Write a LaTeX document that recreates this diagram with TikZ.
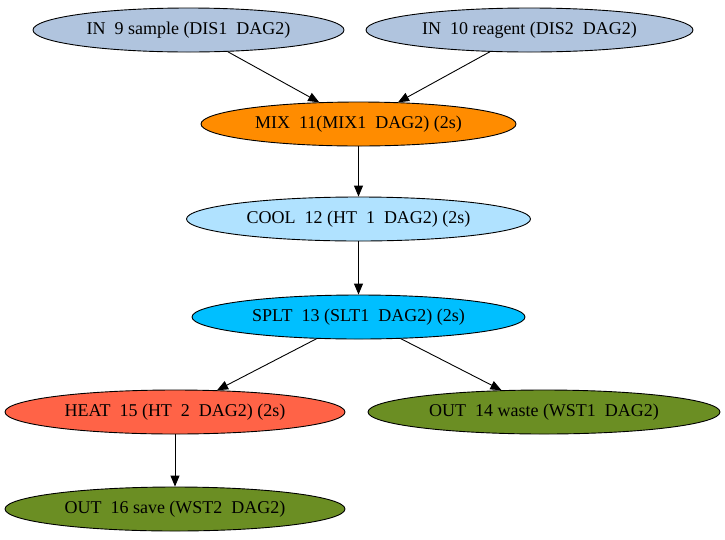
\documentclass[tikz,border=0pt]{standalone}
\usepackage{fontspec}
\setmainfont{Liberation Serif}
\usetikzlibrary{arrows.meta}
\usetikzlibrary{shapes.geometric}
\definecolor{insteel}{HTML}{B0C4DE}
\definecolor{mixorange}{HTML}{FF8C00}
\definecolor{coolblue}{HTML}{B0E2FF}
\definecolor{spltblue}{HTML}{00BFFF}
\definecolor{heattomato}{HTML}{FF6347}
\definecolor{outolive}{HTML}{6B8E23}

\begin{document}
\begin{tikzpicture}[x=1pt,y=-1pt,
    op/.style={ellipse,draw=black,line width=0.9pt,inner sep=0pt,minimum height=44pt,font=\fontsize{18}{20}\selectfont},
    flow/.style={-{Triangle[length=11pt,width=9pt]},line width=0.9pt}]
          \useasboundingbox (0,0) rectangle (725,539);
          %inputs
          \node[op,fill=insteel,minimum width=311pt] (in9) at (188.5,30) {IN\ \ 9 sample (DIS1\ \ DAG2)};
          \node[op,fill=insteel,minimum width=327pt] (in10) at (529.5,30) {IN\ \ 10 reagent (DIS2\ \ DAG2)};
          %operations
          \node[op,fill=mixorange,minimum width=315pt] (mix11) at (358.5,124) {MIX\ \ 11(MIX1\ \ DAG2) (2s)};
          \node[op,fill=coolblue,minimum width=344pt] (cool12) at (358.5,219) {COOL\ \ 12 (HT\ \ 1\ \ DAG2) (2s)};
          \node[op,fill=spltblue,minimum width=333pt] (splt13) at (358.5,317) {SPLT\ \ 13 (SLT1\ \ DAG2) (2s)};
          \node[op,fill=heattomato,minimum width=340pt] (heat15) at (175,412) {HEAT\ \ 15 (HT\ \ 2\ \ DAG2) (2s)};
          %outputs
          \node[op,fill=outolive,minimum width=352pt] (out14) at (544,412) {OUT\ \ 14 waste (WST1\ \ DAG2)};
          \node[op,fill=outolive,minimum width=340pt] (out16) at (175,509) {OUT\ \ 16 save (WST2\ \ DAG2)};
          \draw[flow] (in9) -- (mix11);
          \draw[flow] (in10) -- (mix11);
          \draw[flow] (mix11) -- (cool12);
          \draw[flow] (cool12) -- (splt13);
          \draw[flow] (splt13) -- (heat15);
          \draw[flow] (splt13) -- (out14);
          \draw[flow] (heat15) -- (out16);
      \end{tikzpicture}
\end{document}
